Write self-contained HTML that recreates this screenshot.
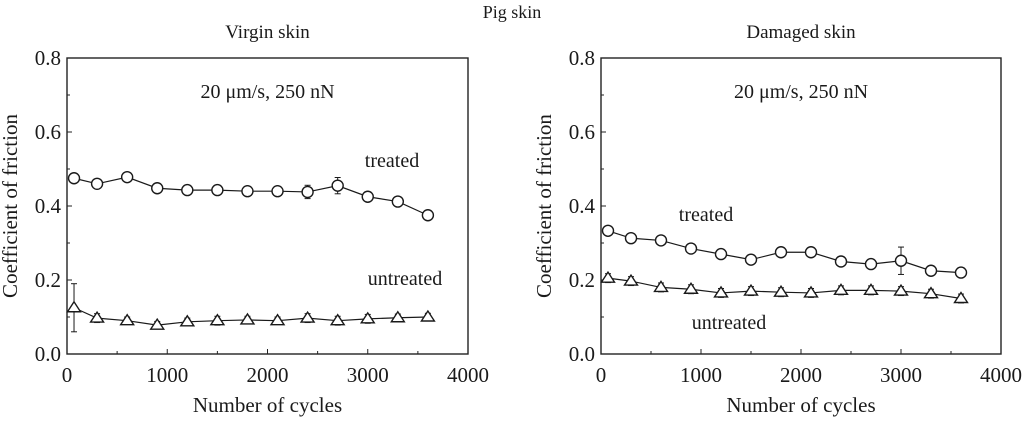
<!DOCTYPE html>
<html><head><meta charset="utf-8"><style>
body{margin:0;background:#fff}
svg, svg text{font-family:"Liberation Serif","Times New Roman",Times,serif !important;fill:#1a1a1a}
</style></head><body>
<svg id="c" width="1024" height="417" xmlns="http://www.w3.org/2000/svg" font-family="Liberation Serif, serif">
<text x="512" y="18" font-size="18" text-anchor="middle" font-family="Liberation Serif, serif">Pig skin</text>
</svg>
<script>
const cycles=[70,300,600,900,1200,1500,1800,2100,2400,2700,3000,3300,3600];
const virginTreated=[0.475,0.46,0.478,0.448,0.443,0.443,0.44,0.44,0.438,0.455,0.425,0.412,0.375];
const virginTreatedErr=[0.01,0.008,0.006,0.008,0.006,0.006,0.005,0.005,0.018,0.022,0.006,0.008,0.006];
const virginUntreated=[0.125,0.097,0.09,0.078,0.087,0.09,0.092,0.09,0.097,0.09,0.095,0.098,0.1];
const virginUntreatedErr=[0.065,0.012,0.01,0.01,0.01,0.012,0.01,0.01,0.012,0.012,0.012,0.01,0.01];
const damagedTreated=[0.333,0.313,0.307,0.285,0.27,0.255,0.275,0.275,0.25,0.243,0.252,0.225,0.22];
const damagedTreatedErr=[0.008,0.008,0.008,0.008,0.006,0.006,0.006,0.006,0.006,0.006,0.037,0.006,0.006];
const damagedUntreated=[0.205,0.197,0.18,0.175,0.165,0.17,0.167,0.165,0.172,0.172,0.17,0.163,0.15];
const damagedUntreatedErr=[0.012,0.012,0.012,0.012,0.012,0.012,0.012,0.012,0.012,0.012,0.012,0.012,0.012];
const xTicks=[0,1000,2000,3000,4000];
const yTicks=[0.0,0.2,0.4,0.6,0.8];
const NS="http://www.w3.org/2000/svg";
const svg=document.getElementById('c');
function mk(tag,attrs,parent){const e=document.createElementNS(NS,tag);for(const k in attrs)e.setAttribute(k,attrs[k]);if(tag==='text')e.setAttribute('font-family','Liberation Serif, serif');(parent||svg).appendChild(e);return e;}
function panel(x0,x1,sub,tr,trE,un,unE,trLab,unLab,id){
  const y0=354,y1=58;
  const sx=v=>x0+(v/4000)*(x1-x0), sy=v=>y0-(v/0.8)*(y0-y1);
  const g=mk('g',{});
  
  
  const st=mk('text',{x:(x0+x1)/2,y:38,'font-size':19,'text-anchor':'middle'},g);st.textContent=sub;
  
  const box=mk('rect',{x:x0,y:y1,width:x1-x0,height:y0-y1,fill:'none',stroke:'#222','stroke-width':1.4},g);
  
  for(let v=0;v<=4000;v+=500){const X=sx(v);mk('line',{x1:X,x2:X,y1:y0,y2:y0-(v%1000?3:5),stroke:'#222'},g);}
  for(let i=0;i<=8;i++){const Y=sy(i*0.1);mk('line',{x1:x0,x2:x0+(i%2?3:5),y1:Y,y2:Y,stroke:'#222'},g);}
  xTicks.forEach(v=>{const t=mk('text',{x:sx(v),y:y0+28,'font-size':21,'text-anchor':'middle'},g);t.textContent=v;
    });
  yTicks.forEach(v=>{const t=mk('text',{x:x0-6,y:sy(v)+7,'font-size':21,'text-anchor':'end'},g);t.textContent=v.toFixed(1);
    });
  const xt=mk('text',{x:(x0+x1)/2,y:412,'font-size':21,'text-anchor':'middle'},g);xt.textContent='Number of cycles';
  
  const yx=x0-50,yy=(y0+y1)/2;
  const yt=mk('text',{x:yx,y:yy,'font-size':21,'text-anchor':'middle',transform:`rotate(-90 ${yx} ${yy})`},g);yt.textContent='Coefficient of friction';
  
  const an=mk('text',{x:sx(2000),y:98,'font-size':20,'text-anchor':'middle'},g);an.textContent='20 μm/s, 250 nN';
  
  function series(vals,errs,shape,name){
    const pts=cycles.map((c,i)=>sx(c)+','+sy(vals[i])).join(' ');
    const pl=mk('polyline',{points:pts,fill:'none',stroke:'#1a1a1a','stroke-width':1.2},g);
    
    cycles.forEach((c,i)=>{
      const X=sx(c),Y=sy(vals[i]),e1=sy(vals[i]+errs[i]),e2=sy(vals[i]-errs[i]);
      mk('line',{x1:X,x2:X,y1:e1,y2:e2,stroke:'#1a1a1a'},g);
      mk('line',{x1:X-3,x2:X+3,y1:e1,y2:e1,stroke:'#1a1a1a'},g);
      mk('line',{x1:X-3,x2:X+3,y1:e2,y2:e2,stroke:'#1a1a1a'},g);
      let m;
      if(shape==='c')m=mk('circle',{cx:X,cy:Y,r:5.5,fill:'#fff',stroke:'#1a1a1a','stroke-width':1.4},g);
      else m=mk('polygon',{points:`${X},${Y-6} ${X-6.5},${Y+4} ${X+6.5},${Y+4}`,fill:'#fff',stroke:'#1a1a1a','stroke-width':1.4},g);
      
    });
  }
  series(tr,trE,'c',id+'-treated');
  series(un,unE,'t',id+'-untreated');
  const l1=mk('text',{x:trLab[0],y:trLab[1],'font-size':20,'text-anchor':'middle'},g);l1.textContent='treated';
  
  const l2=mk('text',{x:unLab[0],y:unLab[1],'font-size':20,'text-anchor':'middle'},g);l2.textContent='untreated';
  
}
panel(67,468,'Virgin skin',virginTreated,virginTreatedErr,virginUntreated,virginUntreatedErr,[392,167],[405,285],'virgin');
panel(601,1001,'Damaged skin',damagedTreated,damagedTreatedErr,damagedUntreated,damagedUntreatedErr,[706,221],[729,329],'damaged');
</script>
</body></html>
